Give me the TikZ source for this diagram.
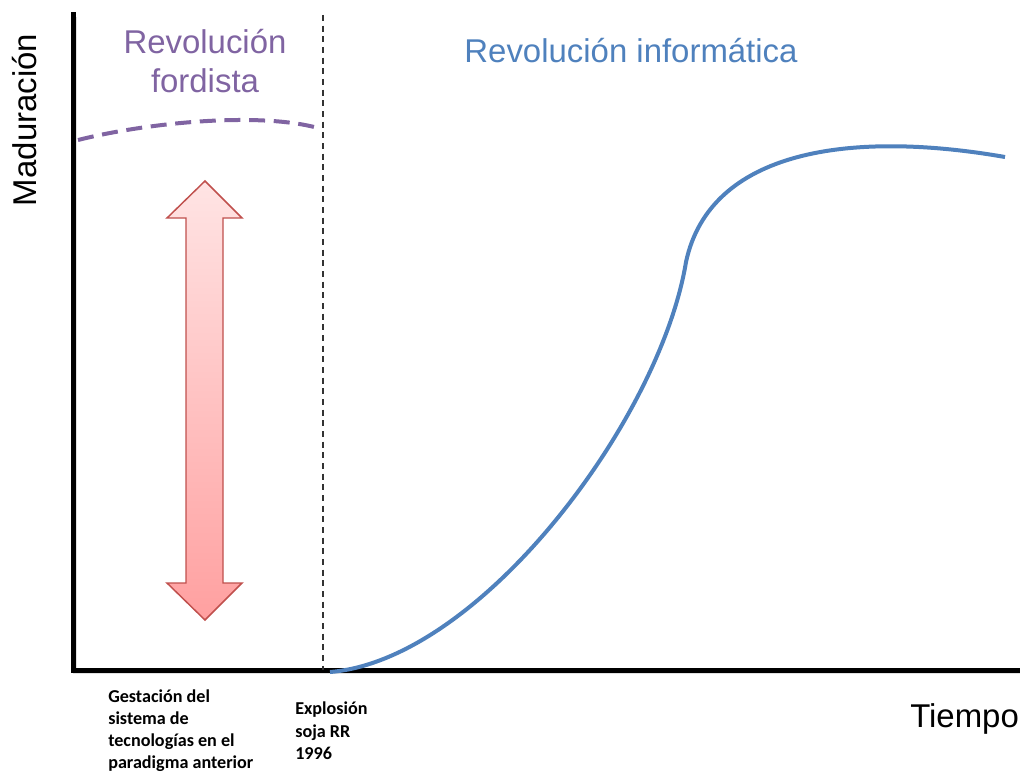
\documentclass[tikz,border=0pt]{standalone}
\usepackage{fontspec}
\setmainfont{Liberation Sans}
\newfontfamily\calfont{Carlito}
\definecolor{infblue}{RGB}{79,129,189}
\definecolor{fordpurple}{RGB}{128,100,162}
\definecolor{arrowred}{RGB}{192,80,77}
\definecolor{pinktop}{RGB}{255,228,228}
\definecolor{pinkbot}{RGB}{255,160,160}
\tikzset{
  axisline/.style={line width=3.75pt, line cap=rect},
  bigtext/.style={font=\fontsize{24.7pt}{29.5pt}\selectfont, inner sep=0pt},
  smalltext/.style={font=\calfont\bfseries\fontsize{13.6pt}{16.5pt}\selectfont, align=left, anchor=north west, inner sep=0pt},
  dividerline/.style={line width=1.1pt, draw=black!80, dash pattern=on 4.5pt off 3.5pt},
  scurve/.style={line width=3pt, draw=infblue},
  fordcurve/.style={line width=3pt, draw=fordpurple, dash pattern=on 12pt off 6.5pt},
}
\begin{document}
\begin{tikzpicture}[x=0.75pt,y=-0.75pt]
\useasboundingbox (0,0) rectangle (1020,774);
% axes
\coordinate (ytop) at (73,15);
\coordinate (origin) at (73,670);
\coordinate (xend) at (1025,670);
\draw[axisline, black!12, line width=3pt] (ytop) ++(2,4) -- ++(0,653) -- ++(950,0);
\draw[axisline] (ytop) -- (origin) -- (xend);
% divider
\coordinate (dtop) at (323,15);
\coordinate (dbot) at (323,670);
\draw[dividerline] (dtop) -- (dbot);
% S curve
\coordinate (s0) at (330,672);
\coordinate (s1) at (686,262);
\coordinate (s2) at (1005,157);
\draw[scurve] (s0) .. controls (480,660) and (660,420) .. (s1)
  .. controls (710,150) and (850,130) .. (s2);
% fordist dashed curve
\coordinate (f0) at (78,140);
\coordinate (f1) at (318,128);
\draw[fordcurve] (f0) .. controls (150,122) and (260,112) .. (f1);
% double arrow
\shadedraw[top color=pinktop, bottom color=pinkbot, draw=arrowred, line width=1.1pt, line join=miter]
  (205,181) -- (242,218) -- (223,218) -- (223,583) -- (242,583) -- (205,620)
  -- (167,583) -- (186,583) -- (186,218) -- (167,218) -- cycle;
% texts
\node[bigtext, text=fordpurple, align=center] (ford) at (205,61) {Revolución\\fordista};
\node[bigtext, text=infblue] (inf) at (631,51) {Revolución informática};
\node[bigtext, rotate=90] (mad) at (25,120) {Maduración};
\node[bigtext, anchor=west] (tiempo) at (910,719) {Tiempo};
\node[smalltext] (gest) at (108,689) {Gestación del\\sistema de\\tecnologías en el\\paradigma anterior};
\node[smalltext] (expl) at (295,702) {Explosión\\soja RR\\1996};
\end{tikzpicture}
\end{document}
